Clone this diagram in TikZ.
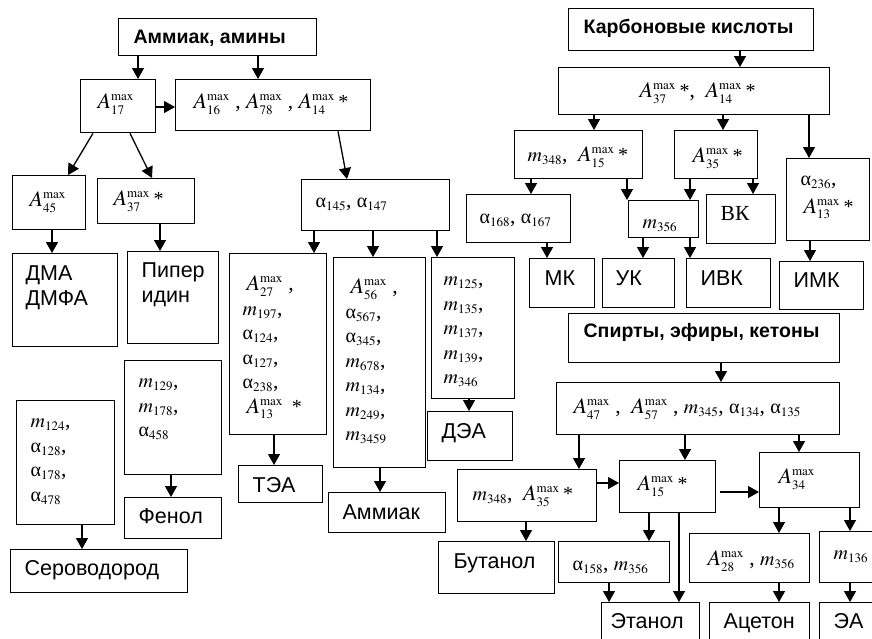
\documentclass[tikz,border=0pt]{standalone}
\usepackage{mathptmx}
\usepackage[no-math]{fontspec}
\setmainfont{Liberation Sans}
\newfontfamily\tnr{Liberation Serif}
\DeclareMathSizes{21.5}{20}{13}{10}
\DeclareMathSizes{22}{22}{13}{10}
\setlength{\lineskiplimit}{-100pt}
\usetikzlibrary{arrows.meta}

\newcommand{\Am}[1]{{\fontsize{22}{24.5}\selectfont$A^{\mathrm{max}}_{#1}$}}
\newcommand{\al}[1]{{\fontsize{20}{24.5}\selectfont α}$_{#1}$}
\newcommand{\mm}[1]{$m_{#1}$}
\newcommand{\st}{\,{\fontsize{20}{24.5}\selectfont\tnr *}}
\newcommand{\hd}[1]{{\bfseries\fontsize{19.5}{23}\selectfont #1}}
% name, x, y, width, height, left pad, first baseline, text
\newcommand{\bx}[8]{\node[box] (#1) at (#2,#3)
  {\parbox[c][#5pt][t]{#4pt}{\leftskip=#6pt\rule{0pt}{#7pt}#8}};}

\begin{document}
\begin{tikzpicture}[x=1pt, y=-1pt,
    box/.style={draw, line width=1.3pt, anchor=north west, inner sep=0pt,
      font=\fontsize{21.5}{24.5}\selectfont},
    arr/.style={line width=1.3pt, -{Triangle[length=11pt,width=12pt]}}]
  \path[use as bounding box] (0,0) rectangle (872,638);
  \clip (0,0) rectangle (872,638);

  % amines
  \bx{amines}{118}{18}{198}{37}{15}{25}{\hd{Аммиак, амины}}
  \bx{a17}{80}{79}{75}{53}{17}{29}{\tnr\Am{17}}
  \bx{a16}{175}{79}{195}{51}{18}{29}{\tnr\Am{16} , \Am{78} , \Am{14}\st}
  \bx{a45}{12}{175}{73}{54}{17}{31}{\tnr\Am{45}}
  \bx{a37}{97}{178}{97}{45}{16}{27}{\tnr\Am{37}\st}
  \bx{alpha145}{301}{179}{148}{51}{14}{28}{\tnr\al{145}, \al{147}}
  \bx{dma}{12}{253}{105}{93}{13}{27}{ДМА\\ДМФА}
  \bx{piper}{127}{251}{91}{92}{14}{26}{Пипер\\идин}
  \bx{a27}{229}{253}{97}{181}{13}{37}{\tnr\hspace*{4pt}\Am{27} ,\\\mm{197},\\\al{124},\\\al{127},\\\al{238},\\\hspace*{4pt}\Am{13}\ \st}
  \bx{a56}{333}{257}{92}{210}{12}{36}{\tnr\hspace*{5pt}\Am{56} ,\\\al{567},\\\al{345},\\\mm{678},\\\mm{134},\\\mm{249},\\\mm{3459}}
  \bx{m125}{431}{257}{83}{141}{12}{28}{\tnr\mm{125},\\\mm{135},\\\mm{137},\\\mm{139},\\\mm{346}}
  \bx{dea}{427}{411}{85}{49}{14}{27}{ДЭА}
  \bx{tea}{238}{465}{84}{37}{14}{27}{ТЭА}
  \bx{ammiak}{328}{492}{117}{40}{14}{27}{Аммиак}
  \bx{m124}{16}{400}{98}{124}{14}{27}{\tnr\mm{124},\\\al{128},\\\al{178},\\\al{478}}
  \bx{m129}{124}{360}{97}{114}{14}{27}{\tnr\mm{129},\\\mm{178},\\\al{458}}
  \bx{fenol}{124}{497}{97}{41}{14}{26}{Фенол}
  \bx{hs}{10}{549}{177}{43}{14}{26}{Сероводород}

  % acids
  \bx{carb}{568}{8}{245}{42}{15}{25}{\hd{Карбоновые кислоты}}
  \bx{c1}{558}{67}{271}{47}{81}{30}{\tnr\Am{37}\st, \ \Am{14}\st}
  \bx{c2}{514}{130}{128}{48}{13}{31}{\tnr\mm{348}, \ \Am{15}\st}
  \bx{c3}{674}{130}{83}{48}{18}{32}{\tnr\Am{35}\st}
  \bx{c4}{786}{158}{83}{82}{14}{27}{\tnr\al{236},\\[3pt]\hspace*{3pt}\Am{13}\st}
  \bx{c5}{466}{194}{104}{48}{13}{29}{\tnr\al{168}, \al{167}}
  \bx{c6}{628}{200}{70}{37}{14}{28}{\tnr\mm{356}}
  \bx{bk}{706}{194}{69}{49}{14}{26}{\tnr ВК}
  \bx{mk}{529}{258}{65}{49}{15}{27}{МК}
  \bx{uk}{602}{258}{72}{49}{13}{27}{УК}
  \bx{ivk}{686}{258}{84}{49}{14}{27}{ИВК}
  \bx{imk}{779}{261}{84}{48}{14}{26}{ИМК}

  % alcohols
  \bx{spirt}{568}{313}{271}{49}{15}{24}{\hd{Спирты, эфиры, кетоны}}
  \bx{s1}{556}{382}{283}{52}{17}{31}{\tnr\Am{47} , \ \Am{57} , \mm{345}, \al{134}, \al{135}}
  \bx{s2}{457}{469}{139}{52}{15}{31}{\tnr\mm{348}, \ \Am{35}\st}
  \bx{s3}{619}{460}{96}{52}{18}{30}{\tnr\Am{15}\st}
  \bx{s4}{759}{452}{100}{55}{19}{31}{\tnr\Am{34}}
  \bx{but}{438}{541}{116}{52}{15}{27}{Бутанол}
  \bx{s5}{558}{541}{111}{41}{14}{29}{\tnr\al{158}, \mm{356}}
  \bx{s6}{689}{533}{120}{49}{18}{32}{\tnr\Am{28} , \mm{356}}
  \bx{s7}{819}{531}{80}{51}{14}{28}{\tnr\mm{136}}
  \bx{eth}{601}{602}{98}{60}{9}{26}{Этанол}
  \bx{acet}{709}{602}{100}{60}{14}{26}{Ацетон}
  \bx{ea}{819}{602}{80}{60}{14}{26}{ЭА}

  % vertical arrows
  \foreach \a/\b/\x in {amines/a17/138, amines/a16/258, a45/dma/52, a37/piper/160,
      alpha145/a27/314, alpha145/a56/373, alpha145/m125/437, m125/dea/469,
      a27/tea/274, a56/ammiak/380, m129/fenol/171, m124/hs/82,
      carb/c1/740, c1/c2/594, c1/c3/723, c1/c4/809, c2/c5/531, c2/c6/627,
      c3/c6/690, c3/bk/753, c5/mk/547, c6/uk/643, c6/ivk/690, c4/imk/810,
      spirt/s1/721, s1/s2/579, s1/s3/685, s1/s4/799, s2/but/526, s3/s5/649,
      s3/eth/679, s5/eth/609, s4/s6/779, s4/s7/850, s6/acet/779, s7/ea/850}
    \draw[arr] (\a.south -| \x,0) -- (\b.north -| \x,0);
  % other arrows
  \draw[arr] (a17.east |- 0,107) -- (a16.west |- 0,107);
  \draw[arr] (a17.south -| 93,0) -- (a45.north -| 68,0);
  \draw[arr] (a17.south -| 130,0) -- (a37.north -| 152,0);
  \draw[arr] (a16.south -| 338,0) -- (alpha145.north -| 347,0);
  \draw[arr] (s2.east |- 0,483) -- (s3.west |- 0,483);
  \draw[arr] ([xshift=4pt]s3.east |- 0,492) -- (s4.west |- 0,492);
\end{tikzpicture}
\end{document}
